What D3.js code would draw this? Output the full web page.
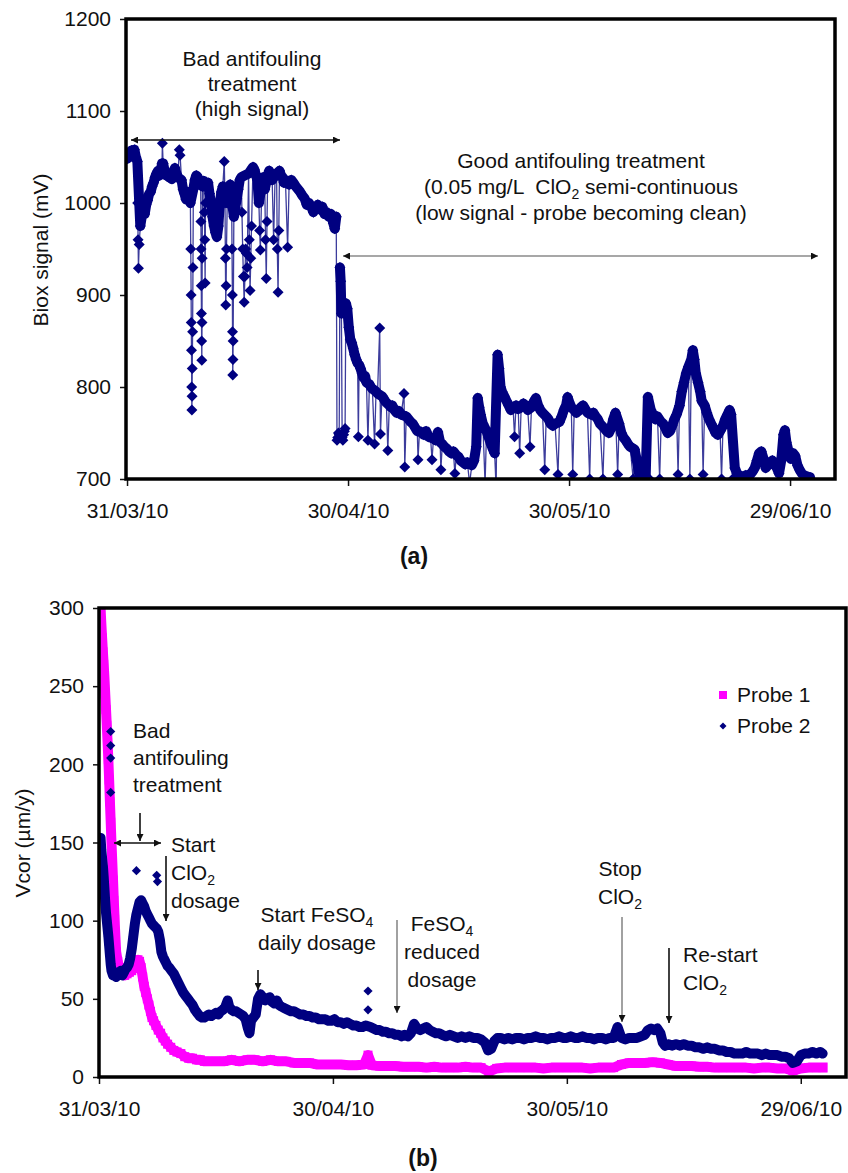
<!DOCTYPE html>
<html>
<head>
<meta charset="utf-8">
<script src="https://cdn.jsdelivr.net/npm/d3@7"></script>
<style>
  body { margin: 0; background: #fff; }
  svg text { font-family: "Liberation Sans", Arial, sans-serif; fill: #111; }
</style>
</head>
<body>
<svg id="chart" width="848" height="1173"></svg>
<script>
// ── Data (days after 31/03/10, value) ─────────────────────────
const xTickDays = [0, 30, 60, 90];
const bioxTicks = [700, 800, 900, 1000, 1100, 1200];
const vcorTicks = [0, 50, 100, 150, 200, 250, 300];

// (a) Biox signal, mV — main trace during bad treatment
const bioxBefore = [
  [0.0,1048],[0.2,1055],[0.4,1050],[0.6,1057],[0.8,1052],[1.0,1058],[1.2,1050],[1.4,1045],[1.8,975],
  [2.0,985],[2.2,995],[2.4,988],[2.6,998],[2.8,1003],[3.0,1010],[3.2,1012],[3.4,1018],[3.6,1022],
  [3.8,1028],[4.0,1032],[4.2,1035],[4.4,1030],[4.6,1036],[4.75,1043],[4.9,1043],[5.1,1035],[5.3,1030],
  [5.5,1033],[5.7,1028],[5.9,1030],[6.1,1026],[6.3,1034],[6.5,1038],[6.7,1032],[6.9,1028],[7.4,1025],
  [7.6,1015],[7.8,1010],[8.0,1004],[8.2,1012],[8.4,1008],[8.6,1000],[9.0,1015],[9.2,1025],[9.4,1030],
  [9.6,1028],[9.8,1025],[10.0,1020],[10.25,1018],[10.4,1024],[10.8,1018],[11.0,1022],[11.2,1010],
  [11.4,1000],[11.6,985],[11.8,975],[12.0,968],[12.2,963],[12.4,975],[12.6,1000],[12.8,1012],[13.0,1018],
  [13.6,1000],[13.8,1012],[14.0,1020],[14.2,1005],[14.5,985],[14.7,995],[14.9,1005],[15.1,1015],
  [15.3,1025],[15.5,1028],[16.5,1032],[17.1,1039],[17.3,1036],[17.5,1030],[17.7,1025],[17.9,1000],
  [18.3,1020],[18.5,1028],[18.7,1015],[19.1,1030],[19.3,1035],[19.5,1030],[19.7,1025],[20.1,1030],
  [20.3,1032],[20.7,1035],[20.9,1030],[21.1,1028],[21.3,1022],[21.5,1025],[22.0,1020],[22.3,1025],
  [22.6,1022],[22.9,1018],[23.2,1015],[23.5,1012],[23.8,1008],[24.1,1005],[24.4,998],[24.7,1000],
  [25.0,996],[25.3,990],[25.6,995],[25.9,998],[26.2,993],[26.5,996],[26.8,988],[27.1,990],[27.4,985],
  [27.7,988],[28.0,978],[28.2,972],[28.4,985]
];

// main trace during good treatment
const bioxAfter = [
  [28.9,930],[29.0,915],[29.1,880],[29.7,891],[29.9,885],[30.1,865],[30.3,852],[30.5,848],[30.7,842],
  [30.9,835],[31.1,830],[31.3,826],[31.5,824],[31.7,820],[31.9,815],[32.1,810],[32.3,812],[32.5,805],
  [32.9,803],[33.1,800],[33.3,798],[33.8,795],[34.0,793],[34.6,790],[34.8,788],[35.0,785],[35.2,783],
  [35.6,780],[35.8,778],[36.0,780],[36.3,775],[36.6,772],[36.9,774],[37.2,770],[37.9,768],[38.2,765],
  [38.5,762],[38.8,760],[39.1,756],[39.4,752],[39.7,752],[40.0,750],[40.3,748],[40.6,752],[40.9,746],
  [41.2,745],[41.6,744],[41.9,742],[42.2,751],[42.5,740],[42.8,738],[43.1,735],[43.4,733],[43.7,730],
  [44.0,728],[44.3,730],[44.7,726],[45.0,724],[45.3,720],[45.6,718],[45.9,716],[46.2,718],[46.8,715],
  [47.1,720],[47.4,735],[47.6,788],[47.8,778],[48.0,770],[48.3,760],[48.8,752],[49.1,745],[49.4,738],
  [49.7,732],[49.9,728],[50.3,835],[50.5,820],[50.7,800],[50.9,795],[51.2,790],[51.5,785],[51.8,780],
  [52.1,775],[52.4,778],[52.8,780],[53.1,776],[53.5,778],[53.8,782],[54.1,780],[54.4,775],[54.9,778],
  [55.2,784],[55.5,788],[55.8,780],[56.1,775],[56.4,772],[56.9,768],[57.2,765],[57.5,760],[57.8,758],
  [58.1,760],[58.7,762],[59.0,768],[59.3,775],[59.6,780],[59.8,789],[60.1,782],[60.3,778],[60.7,775],
  [61.0,772],[61.3,774],[61.6,778],[61.9,780],[62.2,776],[62.5,772],[63.0,770],[63.3,772],[63.6,768],
  [63.9,765],[64.2,760],[64.8,755],[65.1,752],[65.4,750],[65.7,755],[66.0,765],[66.3,772],[66.8,760],
  [67.1,750],[67.4,745],[67.7,742],[68.0,738],[68.3,735],[68.9,732],[69.2,720],[69.5,706],[69.8,703],
  [70.1,704],[70.4,702],[70.7,789],[71.1,775],[71.4,770],[71.7,765],[72.0,768],[72.5,762],[72.8,760],
  [73.1,755],[73.4,750],[73.7,752],[74.0,758],[74.3,765],[74.6,770],[75.0,780],[75.3,795],[75.6,805],
  [75.9,815],[76.2,822],[76.6,830],[76.8,840],[77.0,830],[77.2,815],[77.5,805],[77.8,795],[78.0,785],
  [78.4,780],[78.7,772],[79.0,765],[79.3,760],[79.6,755],[79.9,750],[80.2,748],[80.5,752],[80.9,758],
  [81.2,765],[81.5,770],[81.8,775],[82.0,770],[82.5,712],[82.8,706],[83.1,704],[83.4,703],[83.7,702],
  [84.0,704],[84.3,703],[84.6,705],[84.9,708],[85.2,712],[85.5,720],[85.8,728],[86.1,730],[86.4,722],
  [86.7,712],[87.0,715],[87.3,718],[87.6,720],[87.9,716],[88.2,712],[88.5,706],[88.8,720],[89.1,748],
  [89.3,753],[89.5,740],[89.8,730],[90.1,722],[90.4,728],[90.7,725],[91.0,715],[91.3,710],[91.6,706],
  [91.9,704],[92.2,703],[92.5,702],[92.7,702]
];

// short dips and spikes away from the main trace
const bioxExcursions = [
  [1.45,1000],[1.5,960],[1.55,929],[1.65,955],[4.8,1065],[7.1,1058],[7.2,1052],
  [8.65,950],[8.7,900],[8.72,870],[8.75,840],[8.78,800],[8.8,775],[8.83,790],[8.85,820],[8.9,860],[8.95,930],
  [10.03,980],[10.05,950],[10.08,910],[10.1,880],[10.13,850],[10.15,829],[10.18,870],[10.2,940],
  [10.5,990],[10.55,960],[10.6,913],[10.65,1000],[13.2,1045],[13.3,1000],[13.35,940],[13.4,889],
  [13.45,910],[13.5,950],[14.25,950],[14.3,900],[14.32,860],[14.35,813],[14.38,830],[14.4,850],
  [15.6,990],[15.7,950],[15.8,920],[15.9,892],[16.0,920],[16.1,950],[16.2,945],[16.3,930],
  [16.6,960],[16.7,905],[16.8,940],[16.9,975],[18.0,970],[18.1,949],[18.8,960],[18.9,918],[19.0,980],
  [19.9,960],[20.4,950],[20.5,903],[20.6,970],[21.8,952],
  [28.5,742],[28.6,745],[28.7,750],[28.8,748],[29.2,745],[29.3,742],[29.4,748],[29.5,752],[29.6,755],
  [31.4,746],[32.7,742],[33.6,738],[34.3,864],[34.4,749],[35.4,731],[37.6,793],[37.7,713],[39.5,721],
  [41.4,721],[42.6,710],[44.5,706],[46.5,695],[48.6,695],[50.1,690],[52.6,746],[53.3,728],[54.7,735],
  [56.7,710],[58.5,705],[60.5,705],[62.8,700],[64.6,700],[66.6,705],[68.7,700],[70.9,700],[72.3,700],
  [74.8,705],[76.4,700],[78.2,705],[80.7,700],[82.2,700]
];

// (b) Vcor, µm/y
const probe1 = [
  [0.2,300],[0.3,290],[0.4,281],[0.5,272],[0.6,264],[0.7,255],[0.8,245],[0.9,235],[1.0,225],[1.1,214],
  [1.2,203],[1.3,190],[1.4,176],[1.5,163],[1.6,150],[1.7,138],[1.8,126],[1.9,113],[2.0,101],[2.1,90],
  [2.2,80],[2.4,74],[2.6,70],[2.8,68],[3.0,66],[3.3,65],[3.6,66],[3.9,67],[4.2,68],[4.5,70],[4.8,72],
  [5.0,75],[5.2,74],[5.4,70],[5.6,64],[5.8,58],[6.0,54],[6.2,50],[6.4,46],[6.6,42],[6.8,38],[7.0,36],
  [7.3,33],[7.6,30],[7.9,28],[8.2,25],[8.5,23],[8.8,21],[9.2,19],[9.6,17],[10.0,16],[10.5,15],[11.0,13],
  [11.5,12],[12.0,12],[12.5,11],[13.0,11],[13.5,10],[14,10],[15,10],[16,10],[17,11],[18,10],[19,11],
  [20,11],[21,10],[22,11],[23,10],[24,10],[25,9],[26,9],[27,9],[28,8],[29,8],[30,8],[31,8],[32,7.5],
  [33,7.5],[34,8],[34.5,14],[35,7.5],[36,7],[37,7],[38,7],[39,6.5],[40,6.5],[41,6.5],[42,6],[43,6.5],
  [44,6],[45,6],[46,6],[47,6.5],[48,6],[49,6],[50,3.5],[51,5.5],[52,6],[53,6],[54,6],[55,6],[56,6],
  [57,5.5],[58,6],[59,6],[60,6],[61,6],[62,6],[63,5.5],[64,6],[65,6],[66,6],[67,8],[68,9],[69,9],
  [70,9],[71,9.5],[72,9],[73,8],[74,7],[75,7],[76,7],[77,6.5],[78,6.5],[79,6],[80,6],[81,6],[82,6],
  [83,6],[84,5.5],[85,6],[86,6],[87,5.5],[88,5.5],[89,4],[90,5.5],[91,6],[92,6],[92.8,6]
];

const probe2 = [
  [0.1,150],[0.2,153],[0.3,145],[0.4,140],[0.5,135],[0.6,128],[0.7,120],[0.8,112],[0.9,105],[1.0,100],
  [1.1,95],[1.2,90],[1.3,84],[1.4,78],[1.5,72],[1.6,68],[1.8,65],[2.0,66],[2.2,64],[2.4,67],[2.6,66],
  [2.8,68],[3.0,65],[3.2,67],[3.4,69],[3.6,70],[3.8,72],[4.0,76],[4.2,82],[4.4,90],[4.6,98],[4.8,104],
  [5.0,108],[5.2,112],[5.4,113],[5.6,111],[5.8,109],[6.0,106],[6.2,104],[6.4,102],[6.6,100],[6.8,98],
  [7.0,97],[7.2,96],[7.4,95],[7.6,93],[7.8,88],[8.0,80],[8.2,77],[8.4,75],[8.6,73],[8.8,71],[9.0,70],
  [9.3,68],[9.6,66],[9.9,63],[10.2,60],[10.5,57],[10.8,54],[11.1,52],[11.4,50],[11.7,48],[12.0,46],
  [12.3,43],[12.6,41],[12.9,39],[13.2,38],[13.5,38],[13.8,39],[14.1,40],[14.4,39],[14.7,40],[15.0,41],
  [15.3,40],[15.6,42],[15.9,43],[16.2,45],[16.5,49],[16.7,45],[17.0,43],[17.3,42],[17.6,42],[17.9,41],
  [18.2,40],[18.5,39],[18.8,37],[19.1,31],[19.3,28],[19.5,36],[19.8,38],[20.1,40],[20.4,50],[20.7,53],
  [21.0,51],[21.3,49],[21.6,50],[21.9,51],[22.2,48],[22.5,47],[22.8,49],[23.1,46],[23.4,45],[23.8,44],
  [24.2,43],[24.6,42],[25.0,42],[25.4,41],[25.8,40],[26.2,40],[26.6,39],[27.0,39],[27.4,38],[27.8,38],
  [28.2,37],[28.6,37],[29.0,37],[29.4,36],[29.8,36],[30.2,37],[30.6,35],[31.0,35],[31.4,34],[31.8,35],
  [32.2,34],[32.6,33],[33.0,33],[33.4,32],[33.8,32],[34.2,33],[34.8,32],[35.2,31],[35.6,30],[36.0,30],
  [36.4,29],[36.8,29],[37.2,28],[37.6,28],[38.0,27],[38.4,27],[38.8,26],[39.2,27],[39.6,26],[40.0,28],
  [40.4,34],[40.8,31],[41.2,30],[41.6,31],[42.0,32],[42.4,30],[42.8,29],[43.2,28],[43.6,28],[44.0,27],
  [44.5,26],[45.0,27],[45.5,26],[46.0,25],[46.5,26],[47.0,25],[47.5,26],[48.0,25],[48.5,25],[49.0,24],
  [49.5,22],[49.9,17],[50.3,18],[50.7,23],[51.1,25],[51.5,25],[52.0,24],[52.5,25],[53.0,24],[53.5,25],
  [54.0,25],[54.5,24],[55.0,25],[55.5,25],[56.0,26],[56.5,25],[57.0,25],[57.5,24],[58.0,25],[58.5,25],
  [59.0,26],[59.5,25],[60.0,25],[60.5,26],[61.0,25],[61.5,25],[62.0,26],[62.5,25],[63.0,25],[63.5,24],
  [64.0,25],[64.5,25],[65.0,24],[65.5,25],[66.0,25],[66.5,32],[67.0,25],[67.5,24],[68.0,25],[68.5,25],
  [69.0,25],[69.5,26],[70.0,27],[70.4,30],[70.8,31],[71.2,30],[71.6,31],[72.0,28],[72.3,22],[72.6,20],
  [73.0,21],[73.5,20],[74.0,21],[74.5,20],[75.0,21],[75.5,20],[76.0,20],[76.5,19],[77.0,19],[77.5,18],
  [78.0,19],[78.5,18],[79.0,18],[79.5,17],[80.0,17],[80.5,16],[81.0,16],[81.5,15],[82.0,15],[82.5,15],
  [83.0,16],[83.5,15],[84.0,15],[84.5,15],[85.0,14],[85.5,15],[86.0,14],[86.5,14],[87.0,14],[87.5,13],
  [88.0,13],[88.5,12],[89.0,9],[89.5,10],[90.0,14],[90.5,15],[91.0,15],[91.5,16],[92.0,15],[92.5,16],
  [92.8,15]
];

// isolated Probe 2 readings away from the main trace
const probe2Outliers = [
  [1.5,221],[1.5,212],[1.5,204],[1.5,182],[4.3,86],[4.8,132],[7.4,129],[7.5,125],[7.9,83],
  [34.5,55],[34.5,43]
];

// ── Helpers ───────────────────────────────────────────────────
const START = new Date(2010, 2, 31);
const toDate = d => new Date(START.getTime() + d * 864e5);
const fmt = d3.timeFormat("%d/%m/%y");
const NAVY = "#000080", MAGENTA = "#ff00ff";
const FS = 21;

const svg = d3.select("#chart");
svg.append("rect").attr("width", 848).attr("height", 1173).attr("fill", "#fff");

const defs = svg.append("defs");
defs.append("marker").attr("id", "ah")
    .attr("viewBox", "0 0 10 10").attr("refX", 10).attr("refY", 5)
    .attr("markerWidth", 9).attr("markerHeight", 7).attr("markerUnits", "userSpaceOnUse")
    .attr("orient", "auto-start-reverse")
  .append("path").attr("d", "M0,0L10,5L0,10Z").attr("fill", "#111");

const diamond = r => `M0,${-r}L${r},0L0,${r}L${-r},0Z`;

function multiText(g, lines, x, y, lh, anchor) {
    lines.forEach((parts, i) => {
        const t = g.append("text").attr("x", x).attr("y", y + i * lh)
            .attr("text-anchor", anchor).attr("font-size", FS).style("white-space", "pre");
        parts.forEach((p, j) => {
            if (j % 2 === 1) t.append("tspan").attr("font-size", 14).attr("dy", 5).text(p);
            else t.append("tspan").attr("dy", j === 0 ? 0 : -5).text(p);
        });
    });
}

function arrow(g, x1, y1, x2, y2, color, both) {
    const l = g.append("line").attr("x1", x1).attr("y1", y1).attr("x2", x2).attr("y2", y2)
        .attr("stroke", color).attr("stroke-width", 1.6).attr("marker-end", "url(#ah)");
    if (both) l.attr("marker-start", "url(#ah)");
}

function frameAndAxes(g, x, y, yTicks, box, tickPad) {
    g.append("g").attr("transform", `translate(${box.l},0)`)
        .call(d3.axisLeft(y).tickValues(yTicks).tickFormat(d3.format("d")).tickSize(6).tickPadding(tickPad))
        .call(a => a.select(".domain").remove())
        .call(a => a.selectAll("line").attr("stroke", "#111").attr("stroke-width", 1.5))
        .call(a => a.selectAll("text").attr("font-size", FS).attr("font-family", null).attr("fill", "#111"));
    g.append("g").attr("transform", `translate(0,${box.b})`)
        .call(d3.axisBottom(x).tickValues(xTickDays.map(toDate)).tickFormat(fmt).tickSize(7).tickPadding(17))
        .call(a => a.select(".domain").remove())
        .call(a => a.selectAll("line").attr("stroke", "#111").attr("stroke-width", 1.5))
        .call(a => a.selectAll("text").attr("font-size", FS).attr("font-family", null).attr("fill", "#111"));
    g.append("rect").attr("x", box.l).attr("y", box.t)
        .attr("width", box.r - box.l).attr("height", box.b - box.t)
        .attr("fill", "none").attr("stroke", "#000").attr("stroke-width", 3.5);
}

// ── (a) Biox signal ───────────────────────────────────────────
const boxA = { l: 126, r: 835, t: 19, b: 479 };
const xA = d3.scaleTime().domain([toDate(-0.14), toDate(96.1)]).range([boxA.l, boxA.r]);
const yA = d3.scaleLinear().domain([700, 1200]).range([boxA.b, boxA.t]);
const lineA = d3.line().x(d => xA(toDate(d[0]))).y(d => yA(d[1]));
const gA = svg.append("g");

defs.append("clipPath").attr("id", "clipA").append("rect")
    .attr("x", boxA.l).attr("y", boxA.t).attr("width", boxA.r - boxA.l).attr("height", boxA.b - boxA.t);

const allBiox = bioxBefore.concat(bioxAfter, bioxExcursions).sort((a, b) => a[0] - b[0]);
const plotA = gA.append("g").attr("clip-path", "url(#clipA)");
// thin connecting line through every reading
plotA.append("path").datum(allBiox).attr("d", lineA)
    .attr("fill", "none").attr("stroke", "#3c3c9c").attr("stroke-width", 1.3);
// dense band of overlapping markers along the main trace
[bioxBefore, bioxAfter].forEach(s => plotA.append("path").datum(s).attr("d", lineA)
    .attr("fill", "none").attr("stroke", NAVY).attr("stroke-width", 10)
    .attr("stroke-linejoin", "round").attr("stroke-linecap", "round"));
plotA.append("g").selectAll("path").data(allBiox).join("path")
    .attr("d", diamond(5.5)).attr("fill", NAVY)
    .attr("transform", d => `translate(${xA(toDate(d[0]))},${yA(d[1])})`);

frameAndAxes(gA, xA, yA, bioxTicks, boxA, 9);

gA.append("text").attr("transform", "translate(40,250) rotate(-90)")
    .attr("text-anchor", "middle").attr("dominant-baseline", "central")
    .attr("font-size", FS).text("Biox signal (mV)");

multiText(gA, [["Bad antifouling"], ["treatment"], ["(high signal)"]], 252, 66, 25, "middle");
arrow(gA, 131, 140, 340, 140, "#111", true);
multiText(gA, [["Good antifouling treatment"], ["(0.05 mg/L  ClO", "2", " semi-continuous"],
    ["(low signal - probe becoming clean)"]], 581, 168, 26, "middle");
arrow(gA, 343, 256, 818, 256, "#8a8a8a", true);

svg.append("text").attr("x", 414).attr("y", 564).attr("text-anchor", "middle")
    .attr("font-size", 23).attr("font-weight", "bold").text("(a)");

// ── (b) Vcor ──────────────────────────────────────────────────
const boxB = { l: 99, r: 846, t: 608, b: 1077 };
const xB = d3.scaleTime().domain([toDate(0), toDate(95.8)]).range([boxB.l, boxB.r]);
const yB = d3.scaleLinear().domain([0, 300]).range([boxB.b, boxB.t]);
const gB = svg.append("g");

defs.append("clipPath").attr("id", "clipB").append("rect")
    .attr("x", boxB.l).attr("y", boxB.t).attr("width", boxB.r - boxB.l).attr("height", boxB.b - boxB.t);

const plotB = gB.append("g").attr("clip-path", "url(#clipB)");
const lineB = d3.line().x(d => xB(toDate(d[0]))).y(d => yB(d[1]));

// Probe 1 (drawn first, Probe 2 on top)
plotB.append("path").datum(probe1).attr("d", lineB)
    .attr("fill", "none").attr("stroke", MAGENTA).attr("stroke-width", 10)
    .attr("stroke-linejoin", "round").attr("stroke-linecap", "square");
plotB.append("g").selectAll("rect").data(probe1).join("rect")
    .attr("x", d => xB(toDate(d[0])) - 4.5).attr("y", d => yB(d[1]) - 4.5)
    .attr("width", 9).attr("height", 9).attr("fill", MAGENTA);

// Probe 2
plotB.append("path").datum(probe2).attr("d", lineB)
    .attr("fill", "none").attr("stroke", NAVY).attr("stroke-width", 10)
    .attr("stroke-linejoin", "round").attr("stroke-linecap", "round");
plotB.append("g").selectAll("path").data(probe2.concat(probe2Outliers)).join("path")
    .attr("d", diamond(4.6)).attr("fill", NAVY)
    .attr("transform", d => `translate(${xB(toDate(d[0]))},${yB(d[1])})`);

frameAndAxes(gB, xB, yB, vcorTicks, boxB, 9);

gB.append("text").attr("transform", "translate(22,843) rotate(-90)")
    .attr("text-anchor", "middle").attr("dominant-baseline", "central")
    .attr("font-size", FS).text("Vcor (µm/y)");

// legend
const leg = gB.append("g");
leg.append("rect").attr("x", 719).attr("y", 691).attr("width", 8).attr("height", 8).attr("fill", MAGENTA);
leg.append("text").attr("x", 737).attr("y", 702).attr("font-size", FS).text("Probe 1");
leg.append("path").attr("d", diamond(3.5)).attr("fill", NAVY).attr("transform", "translate(723,726)");
leg.append("text").attr("x", 737).attr("y", 733).attr("font-size", FS).text("Probe 2");

// annotations
multiText(gB, [["Bad"], ["antifouling"], ["treatment"]], 133, 738, 27, "start");
arrow(gB, 140, 813, 140, 841, "#111", false);
arrow(gB, 114, 843, 161, 843, "#111", true);
multiText(gB, [["Start"], ["ClO", "2"], ["dosage"]], 171, 852, 28, "start");
arrow(gB, 166, 856, 166, 921, "#111", false);
multiText(gB, [["Start FeSO", "4"], ["daily dosage"]], 317, 922, 28, "middle");
arrow(gB, 258, 970, 258, 990, "#111", false);
multiText(gB, [["FeSO", "4"], ["reduced"], ["dosage"]], 442, 931, 28, "middle");
arrow(gB, 397, 920, 397, 1013, "#8a8a8a", false);
multiText(gB, [["Stop"], ["ClO", "2"]], 620, 876, 28, "middle");
arrow(gB, 622, 917, 622, 1022, "#8a8a8a", false);
multiText(gB, [["Re-start"], ["ClO", "2"]], 683, 962, 28, "start");
arrow(gB, 669, 948, 669, 1023, "#111", false);

svg.append("text").attr("x", 423).attr("y", 1166).attr("text-anchor", "middle")
    .attr("font-size", 23).attr("font-weight", "bold").text("(b)");
</script>
</body>
</html>
